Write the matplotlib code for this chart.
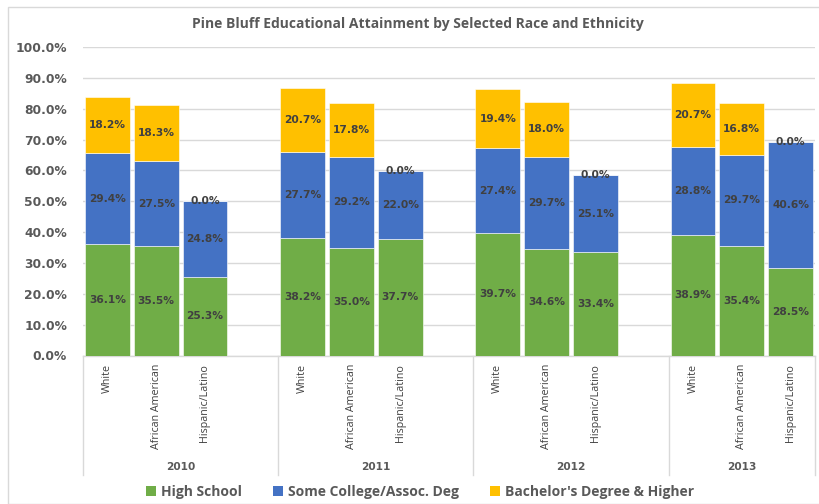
import matplotlib
matplotlib.use("Agg")
import matplotlib.pyplot as plt
import matplotlib.transforms as mtransforms
from matplotlib.patches import Rectangle, Patch

years = ["2010", "2011", "2012", "2013"]
groups = ["White", "African American", "Hispanic/Latino"]
high_school = [36.1, 35.5, 25.3, 38.2, 35.0, 37.7, 39.7, 34.6, 33.4, 38.9, 35.4, 28.5]
some_college = [29.4, 27.5, 24.8, 27.7, 29.2, 22.0, 27.4, 29.7, 25.1, 28.8, 29.7, 40.6]
bachelors = [18.2, 18.3, 0.0, 20.7, 17.8, 0.0, 19.4, 18.0, 0.0, 20.7, 16.8, 0.0]
series_names = ["High School", "Some College/Assoc. Deg", "Bachelor's Degree & Higher"]
colors = ["#70AD47", "#4472C4", "#FFC000"]
yticks = [0, 10, 20, 30, 40, 50, 60, 70, 80, 90, 100]

FONT = "Open Sans"
NUMFONT = "DejaVu Sans"
W, H = 820, 504
fig = plt.figure(figsize=(W / 100, H / 100), dpi=100)
fig.patch.set_facecolor("white")

# chart border
fig.patches.append(Rectangle((8 / W, 0), 1, 1 - 7 / H, transform=fig.transFigure,
                             fill=False, edgecolor="#D9D9D9", linewidth=1.0))

left, right, top, bottom = 83, 815, 47, 355.5
ax = fig.add_axes([left / W, 1 - bottom / H, (right - left) / W, (bottom - top) / H])

# positions: 4 slots per year, last slot of each year empty
xpos = []
for gi in range(len(years)):
    for ci in range(len(groups)):
        xpos.append(gi * 4 + ci)

bw = 0.92
base = [0.0] * len(xpos)
for vals, col in zip([high_school, some_college, bachelors], colors):
    ax.bar(xpos, vals, bottom=base, width=bw, color=col, edgecolor="white",
           linewidth=0.4, zorder=3)
    for x, b, v in zip(xpos, base, vals):
        ax.text(x, b + v / 2, f"{v:.1f}%", ha="center", va="center",
                fontsize=7.7, fontweight="bold", color="#404040", family=NUMFONT, zorder=4)
    base = [b + v for b, v in zip(base, vals)]

ax.set_xlim(-0.5, 14.5)
ax.set_ylim(0, 100)
ax.set_yticks(yticks)
ax.set_yticklabels([f"{t:.1f}%" for t in yticks], fontsize=8.8, fontweight="bold",
                   color="#595959", family=NUMFONT)
ax.tick_params(axis="y", length=0, pad=11.5)
ax.set_xticks([])
ax.yaxis.grid(True, color="#D9D9D9", linewidth=1.0, zorder=0)
for s in ["left", "right", "top"]:
    ax.spines[s].set_visible(False)
ax.spines["bottom"].set_color("#D9D9D9")
ax.spines["bottom"].set_linewidth(1.0)

trans = mtransforms.blended_transform_factory(ax.transData, ax.transAxes)
ax_h = bottom - top
def ay(py):
    return (bottom - py) / ax_h

dividers = [-0.5, 3.5, 7.5, 11.5, 14.5]
for xd in dividers:
    ax.plot([xd, xd], [0, ay(475)], transform=trans, color="#D9D9D9",
            linewidth=1.0, clip_on=False)

for i, x in enumerate(xpos):
    ax.text(x, ay(364), groups[i % 3], transform=trans, rotation=90, ha="center",
            va="top", fontsize=7.75, color="#404040", family=FONT)
for gi, yr in enumerate(years):
    cx = (dividers[gi] + dividers[gi + 1]) / 2
    ax.text(cx, ay(467), yr, transform=trans, ha="center", va="center",
            fontsize=7.6, fontweight="bold", color="#595959", family=NUMFONT)

fig.text(418 / W, 1 - 24 / H, "Pine Bluff Educational Attainment by Selected Race and Ethnicity",
         ha="center", va="center", fontsize=10, fontweight="bold", color="#595959", family=FONT)

handles = [Patch(facecolor=c, edgecolor="none") for c in colors]
leg = fig.legend(handles, series_names, loc="center", bbox_to_anchor=(420 / W, 1 - 492 / H),
                 ncol=3, frameon=False, handlelength=0.75, handleheight=0.75,
                 handletextpad=0.35, columnspacing=2.2,
                 prop={"family": FONT, "weight": "bold", "size": 10})
for t in leg.get_texts():
    t.set_color("#595959")

fig.savefig("out.png", dpi=100, facecolor="white")
